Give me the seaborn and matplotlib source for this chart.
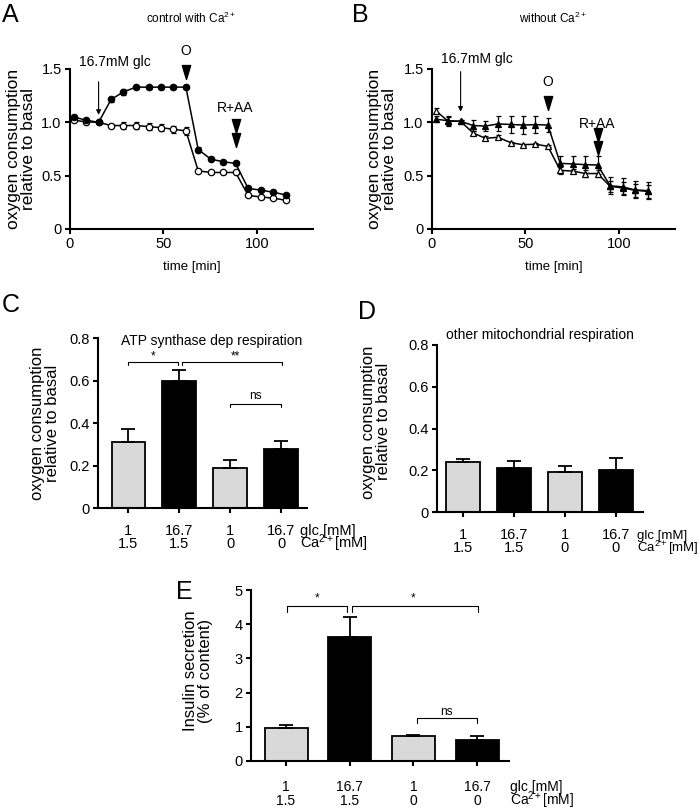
import numpy as np
import pandas as pd
import matplotlib
matplotlib.use("Agg")
import matplotlib.pyplot as plt
import seaborn as sns
from matplotlib.path import Path
from matplotlib.font_manager import FontProperties

# ------------------------- data -------------------------
time_min = [2.0, 8.6, 15.3, 22.0, 28.6, 35.3, 42.0, 48.6, 55.3, 62.0,
            68.6, 75.3, 82.0, 88.6, 95.3, 102.0, 108.6, 115.3]

# Panel A: control with Ca2+
a_high = [1.05, 1.02, 1.00, 1.215, 1.285, 1.33, 1.33, 1.33, 1.33, 1.33,
          0.745, 0.655, 0.63, 0.615, 0.38, 0.365, 0.345, 0.32]
a_high_err = [0.01, 0.01, 0.01, 0.02, 0.025, 0.015, 0.015, 0.015, 0.02, 0.01,
              0.025, 0.01, 0.01, 0.01, 0.015, 0.01, 0.01, 0.01]
a_low = [1.02, 1.005, 1.00, 0.97, 0.97, 0.97, 0.96, 0.95, 0.935, 0.92,
         0.545, 0.53, 0.53, 0.53, 0.315, 0.30, 0.29, 0.27]
a_low_err = [0.01, 0.01, 0.01, 0.015, 0.035, 0.03, 0.03, 0.035, 0.035, 0.035,
             0.015, 0.01, 0.01, 0.01, 0.015, 0.015, 0.01, 0.01]

# Panel B: without Ca2+
b_high = [1.03, 1.015, 1.01, 0.97, 0.965, 0.985, 0.98, 0.975, 0.978, 0.975,
          0.615, 0.61, 0.603, 0.60, 0.405, 0.395, 0.366, 0.36]
b_high_err = [0.03, 0.04, 0.01, 0.05, 0.05, 0.07, 0.08, 0.08, 0.08, 0.07,
              0.07, 0.07, 0.08, 0.08, 0.08, 0.08, 0.08, 0.08]
b_low = [1.11, 1.01, 1.01, 0.90, 0.85, 0.86, 0.81, 0.79, 0.795, 0.775,
         0.55, 0.543, 0.52, 0.52, 0.40, 0.385, 0.363, 0.353]
b_low_err = [0.02, 0.04, 0.01, 0.02, 0.02, 0.02, 0.01, 0.01, 0.01, 0.01,
             0.03, 0.02, 0.03, 0.03, 0.05, 0.06, 0.06, 0.06]

event_glc = 15.3
event_O = 62.0
event_RAA = 88.6

# Bar panels
glc_mM = ["1", "16.7", "1", "16.7"]
ca_mM = ["1.5", "1.5", "0", "0"]
c_vals = [0.31, 0.60, 0.19, 0.28]
c_err = [0.062, 0.05, 0.035, 0.033]
d_vals = [0.238, 0.213, 0.194, 0.203]
d_err = [0.016, 0.033, 0.027, 0.056]
e_vals = [0.97, 3.62, 0.72, 0.61]
e_err = [0.09, 0.59, 0.04, 0.13]

GRAY = "#d9d9d9"
bar_colors = [GRAY, "black", GRAY, "black"]

# ------------------------- style -------------------------
sns.set_style("ticks")
FAM = ["Liberation Sans", "DejaVu Sans"]
plt.rcParams["font.family"] = FAM
plt.rcParams["mathtext.fontset"] = "custom"
plt.rcParams["mathtext.rm"] = "Liberation Sans"
plt.rcParams["mathtext.it"] = "Liberation Sans:italic"
plt.rcParams["mathtext.bf"] = "Liberation Sans:bold"
plt.rcParams["axes.linewidth"] = 1.5
plt.rcParams["xtick.major.width"] = 1.5
plt.rcParams["ytick.major.width"] = 1.5
plt.rcParams["xtick.major.size"] = 3.5
plt.rcParams["ytick.major.size"] = 3.5
plt.rcParams["xtick.color"] = "black"
plt.rcParams["ytick.color"] = "black"
plt.rcParams["axes.edgecolor"] = "black"
plt.rcParams["text.color"] = "black"
plt.rcParams["axes.labelcolor"] = "black"

W, H = 700, 810
DPI = 100
fig = plt.figure(figsize=(W / DPI, H / DPI), dpi=DPI)
renderer = fig.canvas.get_renderer()


def px_axes(l, t, r, b):
    return fig.add_axes([l / W, 1 - b / H, (r - l) / W, (b - t) / H])


tri_down = Path([(-0.6, 1.0), (0.6, 1.0), (0.0, -1.0), (-0.6, 1.0)],
                [Path.MOVETO, Path.LINETO, Path.LINETO, Path.CLOSEPOLY])


def time_panel(ax, hi, hi_err, lo, lo_err, mk, title, ylab_x, glc_text_x,
               glc_text_y, glc_arrow, o_pos, raa_pos):
    ax.errorbar(time_min, lo, yerr=lo_err, fmt="none", ecolor="black",
                elinewidth=0.9, capsize=1.8, capthick=0.9, clip_on=False)
    ax.errorbar(time_min, hi, yerr=hi_err, fmt="none", ecolor="black",
                elinewidth=0.9, capsize=1.8, capthick=0.9, clip_on=False)
    sns.lineplot(x=time_min, y=lo, ax=ax, color="black", lw=1.1, marker=mk,
                 markersize=4.6, markerfacecolor="white",
                 markeredgecolor="black", markeredgewidth=0.9, clip_on=False)
    sns.lineplot(x=time_min, y=hi, ax=ax, color="black", lw=1.1, marker=mk,
                 markersize=4.6, markerfacecolor="black",
                 markeredgecolor="black", markeredgewidth=0.9, clip_on=False)
    ax.set_xlim(0, 130)
    ax.set_ylim(0, 1.5)
    ax.set_xticks([0, 50, 100])
    ax.set_xticklabels(["0", "50", "100"])
    ax.set_yticks([0, 0.5, 1.0, 1.5])
    ax.set_yticklabels(["0", "0.5", "1.0", "1.5"])
    ax.tick_params(labelsize=10.5, pad=2.5)
    sns.despine(ax=ax)
    ax.set_xlabel("time [min]", fontsize=9.5, labelpad=7)
    ax.set_ylabel("oxygen consumption\nrelative to basal", fontsize=12.5,
                  linespacing=1.0, va="center")
    ax.yaxis.set_label_coords(ylab_x, 0.5)
    ax.text(0.5, 1.0 + 51 / 160, title, transform=ax.transAxes,
            ha="center", va="center", fontsize=8.5)
    # glucose addition
    ax.text(glc_text_x, glc_text_y, "16.7mM glc", ha="center", va="center",
            fontsize=10)
    ax.annotate("", xy=(event_glc, glc_arrow[1]), xytext=(event_glc, glc_arrow[0]),
                arrowprops=dict(arrowstyle="-|>", lw=0.8, color="black",
                                mutation_scale=7, shrinkA=0, shrinkB=0),
                annotation_clip=False)
    # oligomycin
    ax.text(event_O, o_pos[0], "O", ha="center", va="center", fontsize=10)
    ax.plot([event_O], [o_pos[1]], marker=tri_down, ms=10, color="black",
            clip_on=False, ls="none")
    # rotenone + antimycin A
    ax.text(event_RAA, raa_pos[0], "R+AA", ha="center", va="center", fontsize=10)
    ax.plot([event_RAA, event_RAA], raa_pos[1:], marker=tri_down, ms=10,
            color="black", clip_on=False, ls="none")


axA = px_axes(70, 69, 313, 229)
time_panel(axA, a_high, a_high_err, a_low, a_low_err, "o",
           "control with Ca$^{2+}$", -0.2, 24.2, 1.57, (1.38, 1.07),
           (1.665, 1.475), (1.135, 0.97, 0.83))
axB = px_axes(432, 69, 675, 229)
time_panel(axB, b_high, b_high_err, b_low, b_low_err, "^",
           "without Ca$^{2+}$", -0.205, 23.8, 1.59, (1.475, 1.10),
           (1.38, 1.18), (0.98, 0.88, 0.76))

LS = 0.95


def bar_panel(ax, vals, errs, width, ylim, yticks, yticklabels, ylabel,
              ylab_xy, label_fs, pad, side_x, side_fs):
    cats = [f"{g}\n{c}" for g, c in zip(glc_mM, ca_mM)]
    df = pd.DataFrame({"cond": cats, "val": vals})
    sns.barplot(data=df, x="cond", y="val", hue="cond", palette=bar_colors,
                order=cats, hue_order=cats, edgecolor="black", linewidth=1.3,
                width=width, legend=False, ax=ax, errorbar=None)
    xs = np.arange(len(vals))
    ax.errorbar(xs, vals, yerr=[np.zeros(len(vals)), errs], fmt="none",
                ecolor="black", elinewidth=1.3, capsize=5, capthick=1.3,
                zorder=1)
    ax.set_ylim(*ylim)
    ax.set_yticks(yticks)
    ax.set_yticklabels(yticklabels)
    ax.tick_params(axis="y", labelsize=10.5, pad=2.5)
    ax.tick_params(axis="x", labelsize=label_fs, pad=pad)
    for lab in ax.get_xticklabels():
        lab.set_linespacing(LS)
    sns.despine(ax=ax)
    ax.set_xlabel("")
    ax.set_ylabel(ylabel, fontsize=12, linespacing=1.0, va="center")
    ax.yaxis.set_label_coords(*ylab_xy)
    # unit labels on the right, aligned with the two rows of tick labels
    fp = FontProperties(family=FAM, size=label_fs)
    _, lp_h, lp_d = renderer.get_text_width_height_descent("lp", fp, ismath=False)
    k = 72.0 / DPI
    top = plt.rcParams["xtick.major.size"] + pad
    base1 = top + (lp_h - lp_d) * k
    base2 = top + (lp_h + (lp_h - lp_d) * LS) * k
    for txt, b in (("glc [mM]", base1), ("Ca$^{2+}$[mM]", base2)):
        ax.annotate(txt, xy=(side_x, 0), xycoords=("data", "axes fraction"),
                    xytext=(0, -b), textcoords="offset points", ha="left",
                    va="baseline", fontsize=side_fs, annotation_clip=False)


def bracket(ax, x1, x2, y, drop, text, ty, tx=None, fs=8.5):
    ax.plot([x1, x1, x2, x2], [y - drop, y, y, y - drop], color="black",
            lw=0.8, clip_on=False)
    ax.text((x1 + x2) / 2 if tx is None else tx, ty, text, ha="center",
            va="center", fontsize=fs)


# Panel C
axC = px_axes(98, 338, 307, 508)
bar_panel(axC, c_vals, c_err, 0.65, (0, 0.8), [0, 0.2, 0.4, 0.6, 0.8],
          ["0", "0.2", "0.4", "0.6", "0.8"],
          "oxygen consumption\nrelative to basal", (-0.254, 0.5), 10.5, 8,
          3.38, 10.5)
axC.set_xlim(-0.59, 3.51)
axC.text(0.545, 0.985, "ATP synthase dep respiration", transform=axC.transAxes,
         ha="center", va="center", fontsize=10)
bracket(axC, 0.0, 0.98, 0.687, 0.015, "*", 0.712)
bracket(axC, 1.06, 3.02, 0.687, 0.015, "**", 0.712, tx=2.1)
bracket(axC, 2.0, 3.0, 0.488, 0.013, "ns", 0.525)

# Panel D
axD = px_axes(437, 345, 643, 512)
bar_panel(axD, d_vals, d_err, 0.65, (0, 0.8), [0, 0.2, 0.4, 0.6, 0.8],
          ["0", "0.2", "0.4", "0.6", "0.8"],
          "oxygen consumption\nrelative to basal", (-0.296, 0.54), 10.5, 8,
          3.42, 9.5)
axD.set_xlim(-0.51, 3.53)
axD.text(0.5, 1.06, "other mitochondrial respiration", transform=axD.transAxes,
         ha="center", va="center", fontsize=10)

# Panel E
axE = px_axes(251, 590, 509, 761)
bar_panel(axE, e_vals, e_err, 0.675, (0, 5), [0, 1, 2, 3, 4, 5],
          ["0", "1", "2", "3", "4", "5"],
          "Insulin secretion\n(% of content)", (-0.205, 0.526), 10, 10.5,
          3.52, 10)
axE.set_xlim(-0.55, 3.5)
bracket(axE, 0.01, 0.96, 4.52, 0.15, "*", 4.74, tx=0.48)
bracket(axE, 1.03, 3.02, 4.52, 0.15, "*", 4.74, tx=2.0)
bracket(axE, 2.06, 2.99, 1.25, 0.15, "ns", 1.44)

# Panel letters
for txt, x, y in [("A", 2, 3), ("B", 352, 3), ("C", 2, 293), ("D", 358, 300),
                  ("E", 176, 580)]:
    fig.text(x / W, 1 - y / H, txt, ha="left", va="top", fontsize=18)

fig.savefig("out.png", dpi=DPI)
